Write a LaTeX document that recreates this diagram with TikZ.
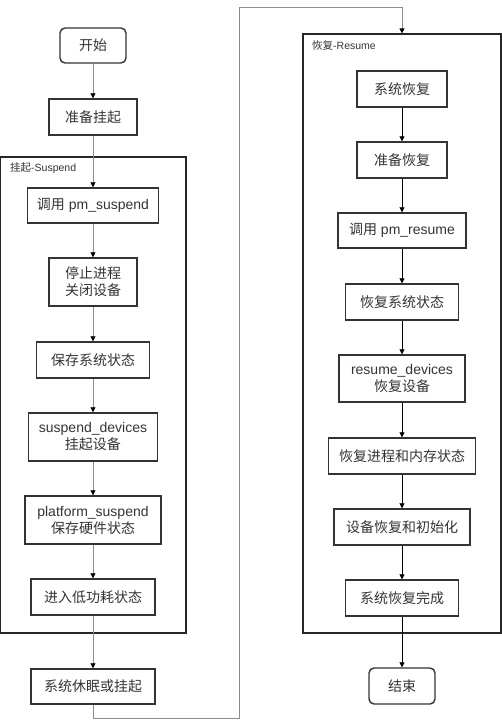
\documentclass[tikz,border=0pt]{standalone}
\usepackage{fontspec}
\setmainfont{Liberation Sans}
\newfontfamily\cjk{Noto Sans CJK SC}
\usetikzlibrary{arrows.meta}

\begin{document}
\begin{tikzpicture}[x=1pt, y=-1pt,
    box/.style={draw=black!80, line width=1.4pt, text=black!80, align=center,
                inner sep=0pt, font=\fontsize{14}{17}\selectfont},
    term/.style={box, rounded corners=5pt},
    cluster/.style={draw=black!85, line width=1.2pt, inner sep=0pt},
    tag/.style={anchor=west, text=black!80, inner sep=0pt, font=\fontsize{10.5}{12}\selectfont},
    arr/.style={draw=black!45, line width=0.8pt, -{Triangle[length=5pt,width=5pt,color=black]}},
    arrk/.style={draw=black, line width=0.8pt, -{Triangle[length=5pt,width=5pt]}}]
            \useasboundingbox (0, 0) rectangle (502, 720);

            % clusters
            \node[cluster, minimum width=186, minimum height=476] (SuspendBox) at (93, 395) {};
            \node[tag] (SuspendTag) at (10, 168) {{\cjk 挂起}-Suspend};
            \node[cluster, minimum width=198, minimum height=599] (ResumeBox) at (402, 333.5) {};
            \node[tag] (ResumeTag) at (312, 46) {{\cjk 恢复}-Resume};

            % left column
            \node[term, minimum width=66, minimum height=35] (Start) at (93, 45.5) {\cjk 开始};
            \node[box, minimum width=88, minimum height=36] (PrepSusp) at (93, 117) {\cjk 准备挂起};
            \node[box, minimum width=131, minimum height=35] (CallSusp) at (93, 205.5) {{\cjk 调用} pm\_suspend};
            \node[box, minimum width=88, minimum height=48] (StopProc) at (93, 282) {\cjk 停止进程\\\cjk 关闭设备};
            \node[box, minimum width=113, minimum height=36] (SaveState) at (93, 360) {\cjk 保存系统状态};
            \node[box, minimum width=129, minimum height=48] (SuspDev) at (93, 437) {suspend\_devices\\\cjk 挂起设备};
            \node[box, minimum width=136, minimum height=48] (PlatSusp) at (93, 520) {platform\_suspend\\\cjk 保存硬件状态};
            \node[box, minimum width=124, minimum height=36] (LowPower) at (93, 597) {\cjk 进入低功耗状态};
            \node[box, minimum width=124, minimum height=35] (Sleep) at (93, 686.5) {\cjk 系统休眠或挂起};

            % right column
            \node[box, minimum width=90, minimum height=36] (Wake) at (402, 89) {\cjk 系统恢复};
            \node[box, minimum width=90, minimum height=36] (PrepRes) at (402, 160) {\cjk 准备恢复};
            \node[box, minimum width=128, minimum height=35] (CallRes) at (402, 230.5) {{\cjk 调用} pm\_resume};
            \node[box, minimum width=113, minimum height=36] (RestState) at (402, 302) {\cjk 恢复系统状态};
            \node[box, minimum width=126, minimum height=47] (ResDev) at (402, 378.5) {resume\_devices\\\cjk 恢复设备};
            \node[box, minimum width=147, minimum height=36] (RestProc) at (402, 456) {\cjk 恢复进程和内存状态};
            \node[box, minimum width=136, minimum height=36] (InitDev) at (402, 527) {\cjk 设备恢复和初始化};
            \node[box, minimum width=113, minimum height=36] (Done) at (402, 598) {\cjk 系统恢复完成};
            \node[term, minimum width=66, minimum height=36] (End) at (402, 686) {\cjk 结束};

            \coordinate (LoopA) at (239, 718);
            \coordinate (LoopB) at (239, 7);

            \draw[arr] (Start) to (PrepSusp);
            \draw[arr] (PrepSusp) to (CallSusp);
            \draw[arr] (CallSusp) to (StopProc);
            \draw[arr] (StopProc) to (SaveState);
            \draw[arr] (SaveState) to (SuspDev);
            \draw[arr] (SuspDev) to (PlatSusp);
            \draw[arr] (PlatSusp) to (LowPower);
            \draw[arr] (LowPower) to (Sleep);
            \draw[arr] (Sleep) |- (LoopA) -- (LoopB) -| (ResumeBox.north);

            \draw[arrk] (Wake) to (PrepRes);
            \draw[arrk] (PrepRes) to (CallRes);
            \draw[arrk] (CallRes) to (RestState);
            \draw[arrk] (RestState) to (ResDev);
            \draw[arrk] (ResDev) to (RestProc);
            \draw[arrk] (RestProc) to (InitDev);
            \draw[arrk] (InitDev) to (Done);
            \draw[arrk] (Done) to (End);
          \end{tikzpicture}
\end{document}
